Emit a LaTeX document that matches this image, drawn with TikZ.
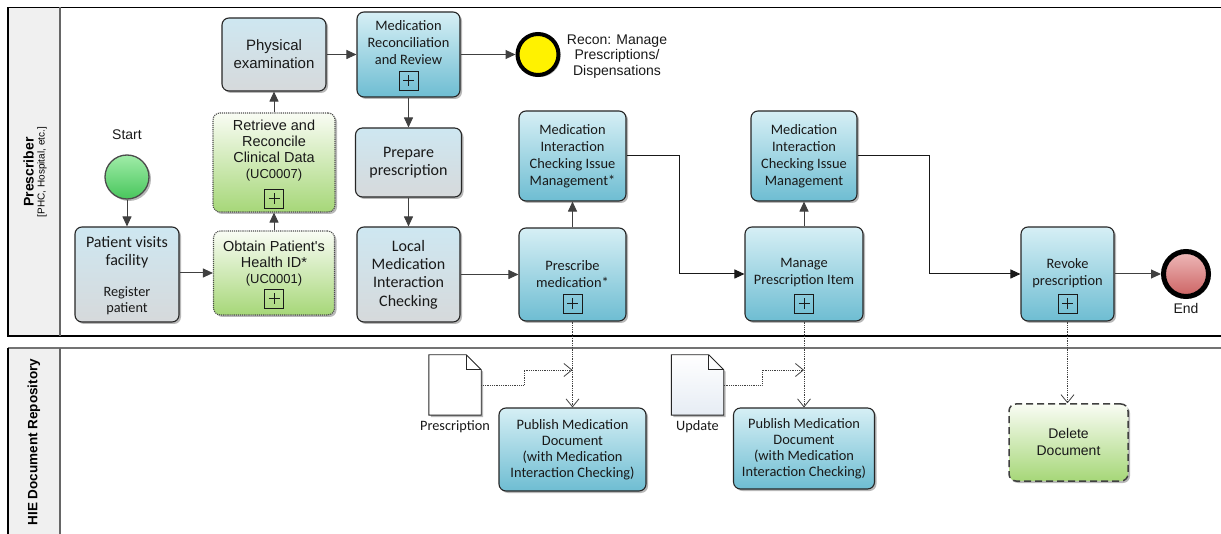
\documentclass[tikz,border=0pt]{standalone}
\usepackage{fontspec}
\setmainfont{Carlito}
\newfontfamily\arialf{Liberation Sans}
\usetikzlibrary{arrows.meta,shadows}
\definecolor{bluetop}{RGB}{214,239,245}
\definecolor{bluebot}{RGB}{110,189,210}
\definecolor{graytop}{RGB}{206,231,241}
\definecolor{graybot}{RGB}{214,217,219}
\definecolor{greentop}{RGB}{249,252,244}
\definecolor{greenbot}{RGB}{166,215,120}
\definecolor{startop}{RGB}{160,236,168}
\definecolor{startbot}{RGB}{72,198,92}
\definecolor{endtop}{RGB}{238,186,186}
\definecolor{endbot}{RGB}{204,98,98}
\definecolor{linegray}{RGB}{64,64,64}
\definecolor{hdrgray}{RGB}{240,240,240}
\definecolor{doctop}{RGB}{255,255,255}
\definecolor{docbot}{RGB}{230,236,244}
\newcommand\fblue{\fontsize{14.4}{17}\selectfont}
\newcommand\fgray{\fontsize{16}{18.4}\selectfont}
\newcommand\farial{\arialf\fontsize{14.5}{16}\selectfont}
\newcommand\fsmallarial{\arialf\fontsize{13}{16}\selectfont}
\tikzset{
  x=1pt, y=-1pt,
  myshadow/.style={drop shadow={shadow xshift=2pt, shadow yshift=-2pt, fill=black, opacity=0.28}},
  boxbase/.style={rectangle, rounded corners=7pt, draw=black!85, line width=1.1pt, inner sep=0pt, myshadow},
  bluebox/.style={boxbase, top color=bluetop, bottom color=bluebot},
  graybox/.style={boxbase, top color=graytop, bottom color=graybot},
  greenbox/.style={boxbase, top color=greentop, bottom color=greenbot, draw=black!70, densely dotted},
  delbox/.style={boxbase, top color=greentop, bottom color=greenbot, draw=black!75, line width=1.5pt, dash pattern=on 7pt off 4pt},
  txt/.style={align=center, inner sep=0pt, text=black!90},
  plusbox/.style={rectangle, draw=black!90, line width=1pt, minimum size=19pt, inner sep=0pt,
    path picture={\draw[line width=1pt] ([xshift=-5.5pt]path picture bounding box.center) -- ([xshift=5.5pt]path picture bounding box.center);
                  \draw[line width=1pt] ([yshift=-5.5pt]path picture bounding box.center) -- ([yshift=5.5pt]path picture bounding box.center);}},
  flow/.style={draw=linegray, line width=1pt, -{Triangle[length=10pt,width=9pt]}},
  flowk/.style={draw=black!90, line width=1pt, -{Triangle[length=10pt,width=9pt]}},
  assoc/.style={draw=linegray, densely dotted, line width=0.8pt, -{Straight Barb[length=8pt,width=13pt]}},
  docline/.style={draw=black!85, line width=0.9pt},
  docnode/.style={rectangle, minimum width=52pt, minimum height=60pt, inner sep=0pt},
}
\begin{document}
\begin{tikzpicture}
\useasboundingbox (0,0) rectangle (1221,534);
% pools
\fill[hdrgray] (8,7.5) rectangle (60,336);
\fill[hdrgray] (8,348) rectangle (60,534);
\draw[black, line width=1.2pt] (1221,7.5) -- (8,7.5) -- (8,336) -- (1221,336);
\draw[black!60, line width=1.6pt] (60,7.5) -- (60,336);
\draw[black!55, line width=1.8pt] (1221,348) -- (8,348);
\draw[black, line width=1.2pt] (8,348) -- (8,534);
\draw[black!60, line width=1.6pt] (60,348) -- (60,534);
\node[rotate=90, align=center, inner sep=0pt] (lane1) at (35,172)
  {{\arialf\fontsize{14}{15}\selectfont\bfseries Prescriber}\\[-1pt]{\arialf\fontsize{10}{11}\selectfont [PHC, Hospital, etc.]}};
\node[rotate=90, inner sep=0pt] (lane2) at (34,442) {\arialf\fontsize{13.5}{15}\selectfont\bfseries HIE Document Repository};

% start
\node[circle, minimum size=44pt, inner sep=0pt, draw=black!70, line width=1.3pt, top color=startop, bottom color=startbot, myshadow] (st) at (127,177) {};
\node[txt, font=\arialf\fontsize{14}{16}\selectfont] (stl) at (127,135) {Start};

% patient visits
\node[graybox, minimum width=104pt, minimum height=95pt] (pv) at (127,274.5) {};
\node[txt, font=\fgray] (pvt) at (127,252.5) {Patient visits\\facility};
\node[txt, font=\fontsize{14.3}{16}\selectfont] (pvs) at (127,301) {Register\\patient};

% obtain
\node[greenbox, minimum width=121pt, minimum height=84pt] (ob) at (274,273) {};
\node[txt, font=\farial] (obt) at (274,264) {Obtain Patient's\\Health ID*\\{\fsmallarial (UC0001)}};
\node[plusbox] (obp) at ([yshift=17pt]ob.south) {};

% retrieve
\node[greenbox, minimum width=122pt, minimum height=99pt] (rr) at (274,162.5) {};
\node[txt, font=\farial] (rrt) at (274,151) {Retrieve and\\Reconcile\\Clinical Data\\{\fsmallarial (UC0007)}};
\node[plusbox] (rrp) at ([yshift=14pt]rr.south) {};

% physical exam
\node[graybox, minimum width=104pt, minimum height=73pt] (pe) at (274,54.5) {};
\node[txt, font=\arialf\fontsize{15}{18}\selectfont] (pet) at (274,54) {Physical\\examination};

% med rec
\node[bluebox, minimum width=103pt, minimum height=85pt] (mr) at (408.5,54.5) {};
\node[txt, font=\fblue] (mrt) at (408.5,43) {Medication\\Reconciliation\\and Review};
\node[plusbox] (mrp) at ([yshift=17pt]mr.south) {};

% yellow event
\node[circle, minimum size=41pt, inner sep=0pt, draw=black, line width=4pt, fill=yellow, myshadow] (ye) at (538,54.5) {};
\node[txt, font=\arialf\fontsize{14}{15.5}\selectfont] (yel) at (617,56.5) {Recon: Manage\\Prescriptions/\\Dispensations};

% prepare
\node[graybox, minimum width=106pt, minimum height=69pt] (pp) at (408.5,162.5) {};
\node[txt, font=\fgray] (ppt) at (408.5,162.5) {Prepare\\prescription};

% local
\node[graybox, minimum width=103pt, minimum height=95pt] (lm) at (408.5,274.5) {};
\node[txt, font=\fgray] (lmt) at (408.5,274.5) {Local\\Medication\\Interaction\\Checking};

% MICIM*
\node[bluebox, minimum width=107pt, minimum height=90pt] (mi1) at (572.5,156) {};
\node[txt, font=\fblue] (mi1t) at (572.5,156) {Medication\\Interaction\\Checking Issue\\Management*};

% prescribe
\node[bluebox, minimum width=107pt, minimum height=93pt] (pm) at (572.5,274.5) {};
\node[txt, font=\fblue] (pmt) at (572.5,274) {Prescribe\\medication*};
\node[plusbox] (pmp) at ([yshift=18pt]pm.south) {};

% MICIM
\node[bluebox, minimum width=106pt, minimum height=90pt] (mi2) at (804,156) {};
\node[txt, font=\fblue] (mi2t) at (804,156) {Medication\\Interaction\\Checking Issue\\Management};

% manage
\node[bluebox, minimum width=118pt, minimum height=94pt] (mp) at (804,274) {};
\node[txt, font=\fblue] (mpt) at (804,273) {Manage\\Prescription Item};
\node[plusbox] (mpp) at ([yshift=18pt]mp.south) {};

% revoke
\node[bluebox, minimum width=93pt, minimum height=94pt] (rv) at (1067.5,274) {};
\node[txt, font=\fblue] (rvt) at (1067.5,273) {Revoke\\prescription};
\node[plusbox] (rvp) at ([yshift=18pt]rv.south) {};

% end
\node[circle, minimum size=45pt, inner sep=0pt, draw=black, line width=5pt, top color=endtop, bottom color=endbot, myshadow] (en) at (1186,274) {};
\node[txt, font=\arialf\fontsize{14}{16}\selectfont] (enl) at (1186,308) {End};

% publish boxes
\node[bluebox, minimum width=147pt, minimum height=83pt] (pub1) at (572.5,449.5) {};
\node[txt, font=\fontsize{14.4}{16}\selectfont] (pub1t) at (572.5,450) {Publish Medication\\Document\\(with Medication\\Interaction Checking)};
\node[bluebox, minimum width=141pt, minimum height=81pt] (pub2) at (804,448.5) {};
\node[txt, font=\fontsize{14.4}{16}\selectfont] (pub2t) at (804,448.5) {Publish Medication\\Document\\(with Medication\\Interaction Checking)};

% delete
\node[delbox, minimum width=119pt, minimum height=77pt] (del) at (1068.5,442.5) {};
\node[txt, font=\arialf\fontsize{14}{17}\selectfont] (delt) at (1068.5,442) {Delete\\Document};

% documents
\node[docnode] (d1) at (455,385) {};
\draw[docline, fill=white, myshadow] (d1.south west) -- (d1.north west) -- ([xshift=-15pt]d1.north east) -- ([yshift=-15pt]d1.north east) -- (d1.south east) -- cycle;
\draw[docline] ([xshift=-15pt]d1.north east) |- ([yshift=-15pt]d1.north east);
\node[txt, font=\fontsize{14.3}{16}\selectfont] (d1l) at (455,427) {Prescription};
\node[docnode] (d2) at (697.5,385) {};
\draw[docline, top color=doctop, bottom color=docbot, myshadow] (d2.south west) -- (d2.north west) -- ([xshift=-15pt]d2.north east) -- ([yshift=-15pt]d2.north east) -- (d2.south east) -- cycle;
\draw[docline] ([xshift=-15pt]d2.north east) |- ([yshift=-15pt]d2.north east);
\node[txt, font=\fontsize{14.3}{16}\selectfont] (d2l) at (697.5,427) {Update};

% helper coordinates
\coordinate (b1) at (679,156);
\coordinate (b2) at (929,156);
\coordinate (b3) at (524,385);
\coordinate (b4) at (762,385);
\coordinate (j1) at (572.5,370);
\coordinate (j2) at (804,370);

% sequence flows
\draw[flow] (st.south) -- (pv.north);
\draw[flow] (pv.east |- ob.west) -- (ob.west);
\draw[flow] (ob.north) -- (rr.south);
\draw[flow] (rr.north) -- (pe.south);
\draw[flow] (pe.east) -- (mr.west);
\draw[flow] (mr.east) -- (ye.west);
\draw[flow] (mr.south) -- (pp.north);
\draw[flow] (pp.south) -- (lm.north);
\draw[flow] (lm.east) -- (pm.west);
\draw[flow] (pm.north) -- (mi1.south);
\draw[flowk] (mi1.east) -- (b1) |- (mp.west);
\draw[flow] (mp.north) -- (mi2.south);
\draw[flowk] (mi2.east) -- (b2) |- (rv.west);
\draw[flow] (rv.east) -- (en.west);

% associations
\draw[assoc] (pm.south) -- (pub1.north);
\draw[assoc] (d1.east) -- (b3) |- (j1);
\draw[assoc] (mp.south) -- (mp.south |- pub2.north);
\draw[assoc] (d2.east) -- (b4) |- (j2);
\draw[assoc] (rv.south) -- (rv.south |- del.north);
\end{tikzpicture}
\end{document}
